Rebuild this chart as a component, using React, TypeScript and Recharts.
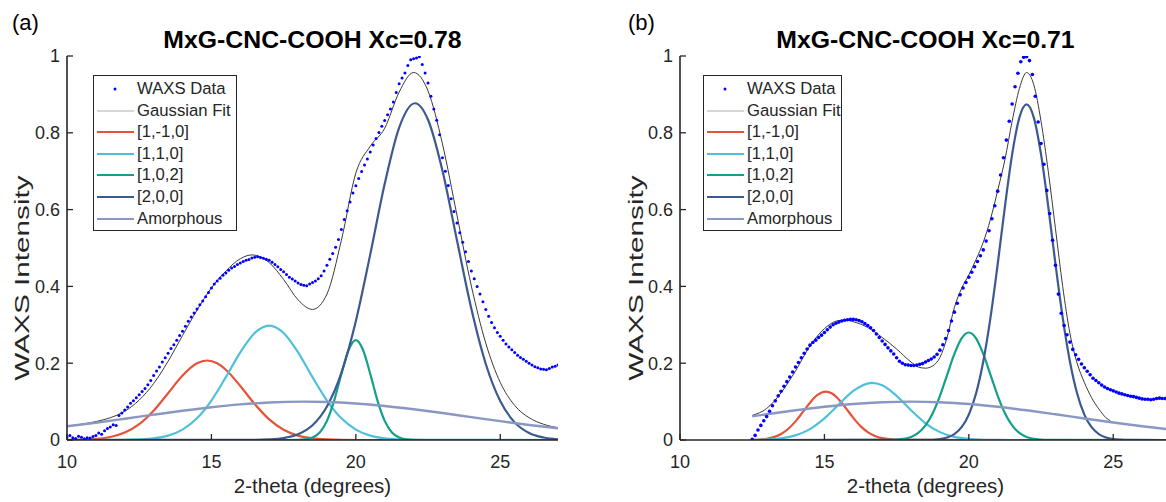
import { ComposedChart, Line, Scatter, XAxis, YAxis } from 'recharts';

// axis ticks
const X_TICKS = [10, 15, 20, 25];
const Y_TICKS = [0, 0.2, 0.4, 0.6, 0.8, 1];
const LEGEND_LABELS = ['WAXS Data', 'Gaussian Fit', '[1,-1,0]', '[1,1,0]', '[1,0,2]', '[2,0,0]', 'Amorphous'];

// ---------- panel (a) ----------
// WAXS data, sampled every 0.1 degree from 10.0 to 27.0
const leftWaxsStart = 10.0;
const leftWaxs = [
  0.008, 0.012, 0.006, 0.004, 0.010, 0.007, 0.003, 0.006, 0.005, 0.009,
  0.012, 0.018, 0.015, 0.024, 0.030, 0.034, 0.040, 0.038, 0.064, 0.070,
  0.078, 0.086, 0.096, 0.102, 0.110, 0.118, 0.126, 0.134, 0.144, 0.155,
  0.168, 0.180, 0.190, 0.203, 0.214, 0.226, 0.238, 0.248, 0.260, 0.272,
  0.283, 0.296, 0.309, 0.320, 0.331, 0.341, 0.352, 0.362, 0.373, 0.384,
  0.396, 0.406, 0.414, 0.421, 0.429, 0.435, 0.442, 0.448, 0.452, 0.457,
  0.461, 0.465, 0.468, 0.470, 0.474, 0.476, 0.477, 0.475, 0.473, 0.471,
  0.468, 0.463, 0.457, 0.451, 0.444, 0.438, 0.431, 0.424, 0.419, 0.414,
  0.409, 0.405, 0.403, 0.402, 0.406, 0.410, 0.414, 0.420, 0.428, 0.440,
  0.455, 0.471, 0.486, 0.502, 0.522, 0.548, 0.574, 0.597, 0.620, 0.643,
  0.662, 0.681, 0.699, 0.716, 0.732, 0.750, 0.768, 0.785, 0.801, 0.817,
  0.832, 0.847, 0.862, 0.880, 0.905, 0.928, 0.943, 0.956, 0.975, 0.990,
  0.993, 0.995, 0.998, 0.978, 0.956, 0.930, 0.895, 0.862, 0.833, 0.795,
  0.735, 0.700, 0.663, 0.628, 0.595, 0.565, 0.540, 0.515, 0.490, 0.465,
  0.440, 0.420, 0.400, 0.380, 0.360, 0.340, 0.322, 0.306, 0.292, 0.280,
  0.270, 0.260, 0.250, 0.242, 0.235, 0.228, 0.221, 0.215, 0.210, 0.205,
  0.200, 0.195, 0.191, 0.188, 0.185, 0.184, 0.183, 0.186, 0.190, 0.192,
  0.195,
];

const leftFitX = [10, 10.5, 11, 11.5, 12, 12.5, 13, 13.5, 14, 14.5, 15, 15.5, 16, 16.4, 17, 17.5, 18, 18.5, 19, 19.5, 20, 20.5, 21, 21.5, 22, 22.5, 23, 23.5, 24, 24.5, 25, 25.5, 26, 26.5, 27];
const leftFitY = [0.036, 0.041, 0.048, 0.058, 0.075, 0.104, 0.147, 0.205, 0.272, 0.338, 0.396, 0.44, 0.472, 0.482, 0.462, 0.418, 0.365, 0.34, 0.38, 0.52, 0.695, 0.765, 0.812, 0.906, 0.957, 0.909, 0.771, 0.586, 0.401, 0.252, 0.15, 0.09, 0.058, 0.041, 0.032];

const leftRedX = [10, 10.5, 11, 11.5, 12, 12.5, 13, 13.5, 14, 14.5, 14.85, 15.2, 15.5, 16, 16.5, 17, 17.5, 18, 18.5, 19, 19.5, 20.5, 27];
const leftRedY = [0.0002, 0.0008, 0.0028, 0.0079, 0.0194, 0.0414, 0.0764, 0.1217, 0.1677, 0.1997, 0.207, 0.1997, 0.183, 0.1408, 0.0936, 0.0538, 0.0268, 0.0115, 0.0043, 0.0014, 0.0004, 0, 0];

const leftCyanX = [10, 12, 12.5, 13, 13.5, 14, 14.5, 15, 15.5, 16, 16.5, 17, 17.5, 18, 18.5, 19, 19.5, 20, 20.5, 21, 21.5, 22, 27];
const leftCyanY = [0, 0.0004, 0.0014, 0.0042, 0.0114, 0.0271, 0.0564, 0.1027, 0.1637, 0.2284, 0.2788, 0.298, 0.2788, 0.2284, 0.1637, 0.1027, 0.0564, 0.0271, 0.0114, 0.0042, 0.0014, 0.0004, 0];

const leftTealX = [10, 17.5, 18, 18.25, 18.5, 18.75, 19, 19.25, 19.5, 19.75, 20, 20.25, 20.5, 20.75, 21, 21.25, 21.5, 21.75, 22, 22.5, 27];
const leftTealY = [0, 0, 0.0003, 0.0016, 0.0063, 0.0197, 0.0498, 0.1026, 0.172, 0.2345, 0.26, 0.2345, 0.172, 0.1026, 0.0498, 0.0197, 0.0063, 0.0016, 0.0003, 0, 0];

const leftBlueX = [10, 16.5, 17, 17.5, 18, 18.5, 19, 19.5, 20, 20.5, 21, 21.5, 22.05, 22.5, 23, 23.5, 24, 24.5, 25, 25.5, 26, 26.5, 27];
const leftBlueY = [0, 0.0004, 0.0016, 0.0052, 0.015, 0.0385, 0.0874, 0.1749, 0.3094, 0.4834, 0.6672, 0.8136, 0.877, 0.834, 0.7012, 0.5207, 0.3416, 0.198, 0.1014, 0.0459, 0.0183, 0.0065, 0.002];

const leftAmorphX = [10, 11, 12, 13, 14, 15, 16, 17, 18.2, 19, 20, 21, 22, 23, 24, 25, 26, 27];
const leftAmorphY = [0.0356, 0.045, 0.0554, 0.066, 0.0762, 0.0854, 0.0928, 0.0978, 0.1, 0.099, 0.0951, 0.0886, 0.0801, 0.0702, 0.0596, 0.0491, 0.0392, 0.0304];

// ---------- panel (b) ----------
// WAXS data, sampled every 0.1 degree from 12.5 to 26.8
const rightWaxsStart = 12.5;
const rightWaxs = [
  0.002, 0.012, 0.026, 0.038, 0.050,
  0.061, 0.075, 0.089, 0.102, 0.115, 0.127, 0.140, 0.152, 0.164, 0.177,
  0.190, 0.202, 0.214, 0.226, 0.237, 0.247, 0.254, 0.260, 0.267, 0.273,
  0.280, 0.287, 0.294, 0.300, 0.304, 0.307, 0.310, 0.312, 0.313, 0.314,
  0.314, 0.313, 0.311, 0.308, 0.303, 0.298, 0.292, 0.285, 0.276, 0.267,
  0.258, 0.249, 0.240, 0.232, 0.224, 0.214, 0.205, 0.200, 0.196, 0.195,
  0.194, 0.194, 0.195, 0.197, 0.199, 0.203, 0.207, 0.211, 0.216, 0.223,
  0.234, 0.248, 0.264, 0.285, 0.310, 0.333, 0.356, 0.378, 0.396, 0.410,
  0.424, 0.437, 0.451, 0.465, 0.480, 0.495, 0.518, 0.545, 0.576, 0.610,
  0.648, 0.690, 0.735, 0.781, 0.830, 0.875, 0.920, 0.955, 0.985, 0.997,
  0.998, 0.988, 0.952, 0.895, 0.828, 0.772, 0.718, 0.650, 0.590, 0.520,
  0.455, 0.380, 0.330, 0.298, 0.274, 0.255, 0.236, 0.222, 0.210, 0.198,
  0.188, 0.179, 0.170, 0.161, 0.155, 0.149, 0.143, 0.138, 0.134, 0.131,
  0.128, 0.125, 0.122, 0.120, 0.118, 0.116, 0.114, 0.113, 0.111, 0.109,
  0.107, 0.106, 0.106, 0.105, 0.106, 0.108, 0.109, 0.108, 0.108,
];

const rightFitX = [12.5, 13, 13.5, 14, 14.5, 15, 15.5, 15.75, 16, 16.5, 17, 17.5, 18, 18.25, 18.5, 18.75, 19, 19.25, 19.5, 19.75, 20, 20.25, 20.5, 20.75, 21, 21.25, 21.5, 21.75, 22, 22.25, 22.5, 22.75, 23, 23.25, 23.5, 23.75, 24, 24.25, 24.5, 24.75, 24.9];
const rightFitY = [0.064, 0.082, 0.123, 0.18, 0.245, 0.29, 0.311, 0.312, 0.308, 0.293, 0.267, 0.237, 0.203, 0.19, 0.187, 0.193, 0.215, 0.268, 0.345, 0.395, 0.43, 0.47, 0.515, 0.575, 0.65, 0.73, 0.83, 0.915, 0.957, 0.925, 0.83, 0.7, 0.55, 0.4, 0.278, 0.2, 0.15, 0.11, 0.081, 0.058, 0.05];

const rightRedX = [12.5, 12.75, 13, 13.25, 13.5, 13.75, 14, 14.25, 14.5, 14.75, 15.05, 15.25, 15.5, 15.75, 16, 16.25, 16.5, 16.75, 17, 17.5, 18, 27];
const rightRedY = [0.0005, 0.0013, 0.0033, 0.0076, 0.0157, 0.0292, 0.0485, 0.0724, 0.097, 0.1166, 0.126, 0.1217, 0.1057, 0.0824, 0.0577, 0.0362, 0.0204, 0.0103, 0.0047, 0.0007, 0.0001, 0];

const rightCyanX = [12.5, 13, 13.5, 14, 14.5, 15, 15.5, 16, 16.65, 17, 17.5, 18, 18.5, 19, 19.5, 20, 20.5, 21, 22, 27];
const rightCyanY = [0.0003, 0.0012, 0.0042, 0.012, 0.0283, 0.0561, 0.0927, 0.128, 0.149, 0.1426, 0.115, 0.0775, 0.0436, 0.0205, 0.0081, 0.0027, 0.0007, 0.0002, 0, 0];

const rightTealX = [12.5, 17, 17.25, 17.5, 17.75, 18, 18.25, 18.5, 18.75, 19, 19.25, 19.5, 19.75, 20, 20.25, 20.5, 20.75, 21, 21.25, 21.5, 21.75, 22, 22.25, 22.5, 22.75, 23, 27];
const rightTealY = [0, 0.0001, 0.0003, 0.0011, 0.0031, 0.008, 0.0184, 0.0379, 0.0698, 0.1151, 0.1698, 0.2242, 0.2649, 0.28, 0.2649, 0.2242, 0.1698, 0.1151, 0.0698, 0.0379, 0.0184, 0.008, 0.0031, 0.0011, 0.0003, 0.0001, 0];

const rightBlueX = [12.5, 18.5, 19, 19.25, 19.5, 19.75, 20, 20.25, 20.5, 20.75, 21, 21.25, 21.5, 21.75, 22, 22.25, 22.5, 22.75, 23, 23.25, 23.5, 23.75, 24, 24.25, 24.5, 24.75, 25, 25.25, 25.5, 27];
const rightBlueY = [0, 0.0003, 0.0026, 0.0066, 0.0155, 0.0333, 0.0661, 0.121, 0.2044, 0.3188, 0.4583, 0.6079, 0.7438, 0.8395, 0.874, 0.8395, 0.7438, 0.6079, 0.4583, 0.3188, 0.2044, 0.121, 0.0661, 0.0333, 0.0155, 0.0066, 0.0026, 0.001, 0.0003, 0];

const rightAmorphX = [12.5, 13, 14, 15, 16, 17, 18, 19, 20, 21, 22, 23, 24, 25, 26, 27];
const rightAmorphY = [0.0615, 0.067, 0.0774, 0.0866, 0.0938, 0.0984, 0.1, 0.0984, 0.0938, 0.0866, 0.0774, 0.067, 0.0561, 0.0455, 0.0358, 0.0273];

const FONT = '"Liberation Sans", Arial, Helvetica, sans-serif';
const AXIS_COLOR = '#262626';
const COLORS = {
  data: '#0000ff',
  fit: '#3a3a3a',
  fitLegend: '#c8c8c8',
  red: '#e5533a',
  cyan: '#4fc0da',
  teal: '#13a08b',
  blue: '#3c5a8f',
  amorph: '#8a97c2',
};

type Pt = { x: number; y: number };

function zip(xs: number[], ys: number[]): Pt[] {
  return xs.map((x, i) => ({ x, y: ys[i] }));
}

function sampled(start: number, ys: number[]): Pt[] {
  return ys.map((y, i) => ({ x: Math.round((start + i * 0.1) * 100) / 100, y }));
}

function formatY(v: number): string {
  if (v === 0) return '0';
  if (v === 1) return '1';
  return v.toFixed(1);
}

// MATLAB style ticks: marks point inward, labels outside
const XTick = (p: any) => (
  <g>
    <line x1={p.x} x2={p.x} y1={p.y} y2={p.y - 6} stroke={AXIS_COLOR} strokeWidth={1.3} />
    <text x={p.x} y={p.y + 15} dy="0.71em" textAnchor="middle" fontSize={18} fontFamily={FONT} fill={AXIS_COLOR}>
      {p.payload.value}
    </text>
  </g>
);

const YTick = (p: any) => (
  <g>
    <line x1={p.x} x2={p.x + 6} y1={p.y} y2={p.y} stroke={AXIS_COLOR} strokeWidth={1.3} />
    <text x={p.x - 7} y={p.y} dy="0.35em" textAnchor="end" fontSize={18} fontFamily={FONT} fill={AXIS_COLOR}>
      {formatY(p.payload.value)}
    </text>
  </g>
);

function LegendBox({ left, top, width }: { left: number; top: number; width: number }) {
  const swatches = [COLORS.data, COLORS.fitLegend, COLORS.red, COLORS.cyan, COLORS.teal, COLORS.blue, COLORS.amorph];
  return (
    <div
      style={{
        position: 'absolute',
        left,
        top,
        width,
        height: 156,
        border: `1.5px solid ${AXIS_COLOR}`,
        background: '#fff',
        boxSizing: 'border-box',
      }}
    >
      {LEGEND_LABELS.map((label, i) => {
        const cy = 13 + i * 21.6;
        return (
          <div key={label} style={{ position: 'absolute', left: 0, top: cy - 11, height: 22, width: width - 2 }}>
            <svg width={42} height={22} style={{ position: 'absolute', left: 0, top: 0 }}>
              {i === 0 ? (
                <circle cx={21} cy={11} r={1.5} fill={swatches[i]} />
              ) : (
                <line x1={3} x2={40} y1={11} y2={11} stroke={swatches[i]} strokeWidth={i === 1 ? 1.5 : 2.2} />
              )}
            </svg>
            <span
              style={{
                position: 'absolute',
                left: 43,
                top: 0,
                lineHeight: '22px',
                fontSize: 16.7,
                color: AXIS_COLOR,
                whiteSpace: 'nowrap',
              }}
            >
              {label}
            </span>
          </div>
        );
      })}
    </div>
  );
}

type PanelProps = {
  left: number;
  width: number;
  marginRight: number;
  tag: string;
  tagLeft: number;
  yLabelX: number;
  legendLeft: number;
  legendWidth: number;
  dotR: number;
  title: string;
  waxs: Pt[];
  fit: Pt[];
  red: Pt[];
  cyan: Pt[];
  teal: Pt[];
  blue: Pt[];
  amorph: Pt[];
};

function Panel(props: PanelProps) {
  const { left, width, marginRight } = props;
  const plotLeft = 67;
  const plotRight = width - marginRight;
  const centerX = (plotLeft + 558) / 2 + (plotRight > 558 ? 0 : 0);
  const comp = (data: Pt[], color: string, w = 2.2) => (
    <Line
      data={data}
      dataKey="y"
      type="monotone"
      stroke={color}
      strokeWidth={w}
      dot={false}
      activeDot={false}
      isAnimationActive={false}
    />
  );
  const dot = (p: any) => <circle cx={p.cx} cy={p.cy} r={props.dotR} fill={COLORS.data} />;
  return (
    <div style={{ position: 'absolute', left, top: 0, width, height: 502 }}>
      <ComposedChart width={width} height={502} margin={{ top: 56, right: marginRight, bottom: 0, left: 0 }}>
        <XAxis
          type="number"
          dataKey="x"
          domain={[10, 27]}
          ticks={X_TICKS}
          interval={0}
          allowDataOverflow
          height={62}
          tickSize={0}
          tickMargin={0}
          tickLine={false}
          tick={XTick}
          axisLine={{ stroke: AXIS_COLOR, strokeWidth: 1.6 }}
        />
        <YAxis
          type="number"
          dataKey="y"
          domain={[0, 1]}
          ticks={Y_TICKS}
          interval={0}
          allowDataOverflow
          width={plotLeft}
          tickSize={0}
          tickMargin={0}
          tickLine={false}
          tick={YTick}
          axisLine={{ stroke: AXIS_COLOR, strokeWidth: 1.6 }}
        />
        <Scatter data={props.waxs} dataKey="y" shape={dot} isAnimationActive={false} />
        {comp(props.fit, COLORS.fit, 1)}
        {comp(props.red, COLORS.red)}
        {comp(props.cyan, COLORS.cyan)}
        {comp(props.teal, COLORS.teal)}
        {comp(props.blue, COLORS.blue)}
        {comp(props.amorph, COLORS.amorph, 2.4)}
      </ComposedChart>
      <div style={{ position: 'absolute', left: props.tagLeft, top: 12, fontSize: 22, lineHeight: 1, color: '#000' }}>
        {props.tag}
      </div>
      <div
        style={{
          position: 'absolute',
          left: centerX - 250,
          width: 500,
          top: 28,
          textAlign: 'center',
          fontSize: 24.8,
          fontWeight: 'bold',
          lineHeight: 1,
          color: '#000',
        }}
      >
        {props.title}
      </div>
      <div
        style={{
          position: 'absolute',
          left: centerX - 150,
          width: 300,
          top: 476,
          textAlign: 'center',
          fontSize: 20.5,
          lineHeight: 1,
          color: AXIS_COLOR,
        }}
      >
        2-theta (degrees)
      </div>
      <div
        style={{
          position: 'absolute',
          left: props.yLabelX,
          top: 278,
          transform: 'translate(-50%, -50%) rotate(-90deg) scaleX(1.45)',
          fontSize: 20.5,
          lineHeight: 1,
          whiteSpace: 'nowrap',
          color: AXIS_COLOR,
        }}
      >
        WAXS Intensity
      </div>
      <LegendBox left={props.legendLeft} top={75} width={props.legendWidth} />
    </div>
  );
}

export default function App() {
  return (
    <div
      style={{
        position: 'fixed',
        left: 0,
        top: 0,
        width: 1166,
        height: 502,
        overflow: 'hidden',
        background: '#fff',
        fontFamily: FONT,
      }}
    >
      <Panel
        left={0}
        width={580}
        marginRight={22}
        tag="(a)"
        tagLeft={12}
        yLabelX={22}
        legendLeft={93}
        legendWidth={144}
        dotR={1.5}
        title="MxG-CNC-COOH Xc=0.78"
        waxs={sampled(leftWaxsStart, leftWaxs)}
        fit={zip(leftFitX, leftFitY)}
        red={zip(leftRedX, leftRedY)}
        cyan={zip(leftCyanX, leftCyanY)}
        teal={zip(leftTealX, leftTealY)}
        blue={zip(leftBlueX, leftBlueY)}
        amorph={zip(leftAmorphX, leftAmorphY)}
      />
      <Panel
        left={613}
        width={560}
        marginRight={2}
        tag="(b)"
        tagLeft={15}
        yLabelX={23}
        legendLeft={90}
        legendWidth={139}
        dotR={1.8}
        title="MxG-CNC-COOH Xc=0.71"
        waxs={sampled(rightWaxsStart, rightWaxs)}
        fit={zip(rightFitX, rightFitY)}
        red={zip(rightRedX, rightRedY)}
        cyan={zip(rightCyanX, rightCyanY)}
        teal={zip(rightTealX, rightTealY)}
        blue={zip(rightBlueX, rightBlueY)}
        amorph={zip(rightAmorphX, rightAmorphY)}
      />
    </div>
  );
}
